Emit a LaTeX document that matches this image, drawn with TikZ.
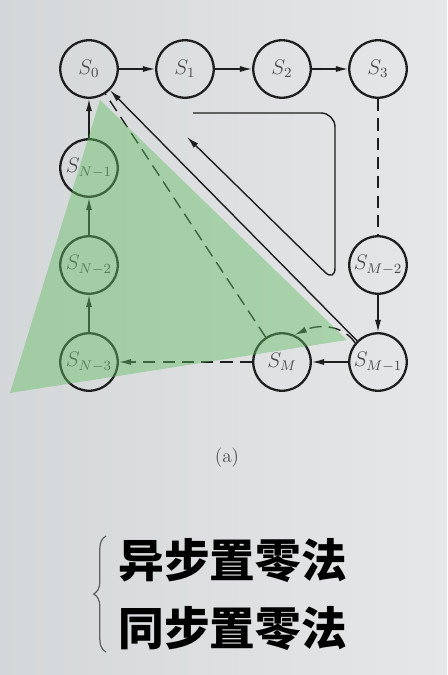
\documentclass[tikz,border=0pt]{standalone}
\usepackage{fontspec}
\newfontfamily\cjk{Noto Sans CJK SC}
\usetikzlibrary{arrows.meta,decorations.pathreplacing}
\definecolor{PaperLeft}{RGB}{212,215,217}
\definecolor{PaperRight}{RGB}{230,231,232}
\definecolor{ShadeGreen}{RGB}{100,190,100}
\definecolor{InkGray}{RGB}{30,30,30}

\begin{document}
\begin{tikzpicture} [x=0.02cm,y=-0.02cm, state/.style={circle,draw=InkGray,line width=1.3pt,minimum size=1.15cm,inner sep=0pt,text=InkGray!80,font=\fontsize{12}{14}\selectfont}, link/.style={InkGray,line width=0.8pt,-{Latex[length=7pt,width=3.5pt]}}, gap/.style={InkGray,line width=0.8pt,dash pattern=on 7pt off 4pt}]

% paper
\useasboundingbox (0,0) rectangle (447,675);
\shade[left color=PaperLeft,right color=PaperRight] (0,0) rectangle (447,675);

% top row
\node[state] (s0) at (89,69) {$S_0$};
\node[state] (s1) at (185,69) {$S_1$};
\node[state] (s2) at (282,69) {$S_2$};
\node[state] (s3) at (378,69) {$S_3$};
% left column
\node[state] (sn1) at (89,168) {$S_{N-1}$};
\node[state] (sn2) at (89,265) {$S_{N-2}$};
\node[state] (sn3) at (89,362) {$S_{N-3}$};
% right side
\node[state] (sm2) at (378,265) {$S_{M-2}$};
\node[state] (sm1) at (378,362) {$S_{M-1}$};
\node[state] (sm) at (282,362) {$S_M$};

\draw[link] (s0) -- (s1);
\draw[link] (s1) -- (s2);
\draw[link] (s2) -- (s3);
\draw[gap] (s3) -- (sm2);
\draw[link] (sm2) -- (sm1);
\draw[link] (sm1) -- (sm);
\draw[gap,-{Latex[length=7pt,width=3.5pt]}] (sm) -- (sn3);
\draw[link] (sn3) -- (sn2);
\draw[link] (sn2) -- (sn1);
\draw[link] (sn1) -- (s0);

% the two diagonals
\draw[link] (sm1) -- (s0);
\draw[gap] (sm) -- (s0);
\draw[gap,-{Latex[length=7pt,width=3.5pt]}] (sm1.140) to[out=125,in=25] (sm.65);

% loop sign
\coordinate (loopstart) at (193,113);
\coordinate (loopend) at (187,137);
\draw[link,rounded corners=8pt] (loopstart) -| (335,282) -- (loopend);

% green wedge on top
\fill[ShadeGreen,fill opacity=0.45] (100,100) -- (347,340) -- (10,393) -- cycle;

\node[font=\fontsize{11}{13}\selectfont,text=InkGray!80] (caption) at (227,458) {(a)};

% the two methods
\node[anchor=west,inner sep=0pt,font=\cjk\bfseries\fontsize{26}{30}\selectfont] (yibu) at (118,561) {异步置零法};
\node[anchor=west,inner sep=0pt,font=\cjk\bfseries\fontsize{26}{30}\selectfont] (tongbu) at (118,629) {同步置零法};
\draw[InkGray!70,line width=0.7pt,decorate,decoration={brace,amplitude=7pt}] (106,652) -- (106,536);

\end{tikzpicture}
\end{document}
